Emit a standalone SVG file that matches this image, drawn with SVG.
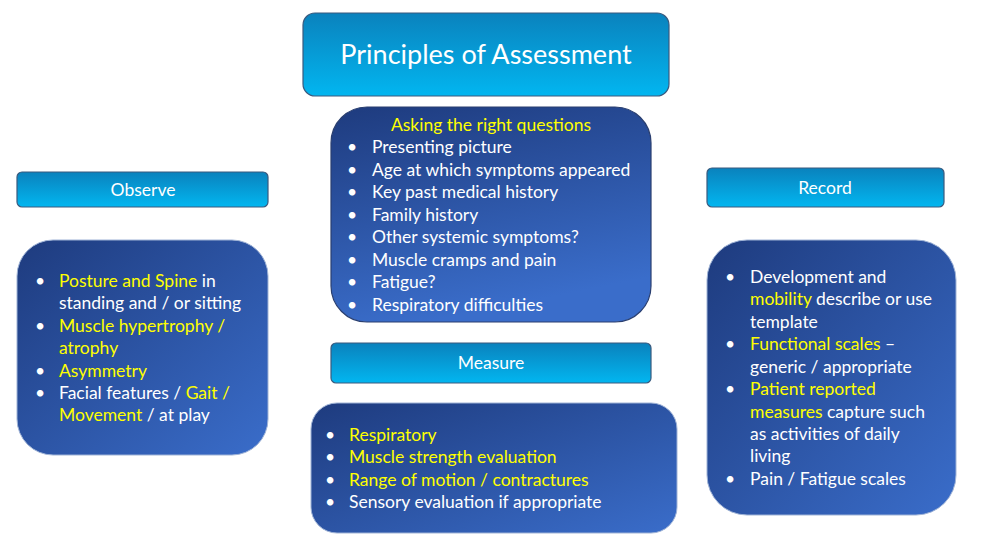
<svg xmlns="http://www.w3.org/2000/svg" width="1000" height="560" viewBox="0 0 1000 560">
<defs>
<linearGradient id="hdr" x1="0" y1="0" x2="0" y2="1">
<stop offset="0" stop-color="#0a82bd"/>
<stop offset="1" stop-color="#02b6f0"/>
</linearGradient>
<linearGradient id="body" x1="0" y1="0" x2="1" y2="1">
<stop offset="0" stop-color="#1e3b7e"/>
<stop offset="1" stop-color="#3a6dca"/>
</linearGradient>
<linearGradient id="bodyV" x1="0" y1="0" x2="0.3" y2="1">
<stop offset="0" stop-color="#1e3b7e"/>
<stop offset="1" stop-color="#3a6dca"/>
</linearGradient>
</defs>
<style>
.hdr{fill:url(#hdr);stroke:#3a5a7e;stroke-width:1.2}
.body{fill:url(#body);stroke:#9fb3d6;stroke-width:1}
.bodyV{fill:url(#bodyV);stroke:#2a3f70;stroke-width:1.2}
text{font-family:Lato,"Open Sans","Liberation Sans",sans-serif;font-size:17.5px;fill:#ffffff}
.h{font-size:17.5px;text-anchor:middle}
.t{font-size:27px;text-anchor:middle}
.y{fill:#ffff00}
.c{text-anchor:middle}
</style>
<rect width="1000" height="560" fill="#ffffff"/>
<g id="title">
<rect class="hdr" x="303" y="13" width="366" height="83" rx="12"/>
<text class="t" x="486" y="64">Principles of Assessment</text>
</g>
<g id="questions">
<rect class="bodyV" x="331" y="107" width="320" height="215" rx="36"/>
<text class="c y" x="491" y="131">Asking the right questions</text>
<text x="347" y="153">•</text><text x="372" y="153">Presenting picture</text>
<text x="347" y="176">•</text><text x="372" y="176">Age at which symptoms appeared</text>
<text x="347" y="198">•</text><text x="372" y="198">Key past medical history</text>
<text x="347" y="221">•</text><text x="372" y="221">Family history</text>
<text x="347" y="243">•</text><text x="372" y="243">Other systemic symptoms?</text>
<text x="347" y="266">•</text><text x="372" y="266">Muscle cramps and pain</text>
<text x="347" y="288">•</text><text x="372" y="288">Fatigue?</text>
<text x="347" y="311">•</text><text x="372" y="311">Respiratory difficulties</text>
</g>
<g id="observe-header">
<rect class="hdr" x="17" y="172" width="251" height="35" rx="5"/>
<text class="h" x="143" y="196">Observe</text>
</g>
<g id="observe">
<rect class="body" x="17" y="240" width="251" height="215" rx="36"/>
<text x="35" y="287">•</text><text x="59" y="287"><tspan class="y">Posture and Spine</tspan> in</text>
<text x="59" y="309">standing and / or sitting</text>
<text x="35" y="332">•</text><text class="y" x="59" y="332">Muscle hypertrophy /</text>
<text class="y" x="59" y="354">atrophy</text>
<text x="35" y="377">•</text><text class="y" x="59" y="377">Asymmetry</text>
<text x="35" y="399">•</text><text x="59" y="399">Facial features / <tspan class="y">Gait /</tspan></text>
<text x="59" y="421"><tspan class="y">Movement</tspan> / at play</text>
</g>
<g id="record-header">
<rect class="hdr" x="707" y="168" width="237" height="39" rx="5"/>
<text class="h" x="825" y="194">Record</text>
</g>
<g id="record">
<rect class="body" x="707" y="240" width="249" height="275" rx="40"/>
<text x="725" y="283">•</text><text x="750" y="283">Development and</text>
<text x="750" y="305"><tspan class="y">mobility</tspan> describe or use</text>
<text x="750" y="328">template</text>
<text x="725" y="350">•</text><text x="750" y="350"><tspan class="y">Functional scales</tspan> –</text>
<text x="750" y="373">generic / appropriate</text>
<text x="725" y="395">•</text><text class="y" x="750" y="395">Patient reported</text>
<text x="750" y="418"><tspan class="y">measures</tspan> capture such</text>
<text x="750" y="440">as activities of daily</text>
<text x="750" y="462">living</text>
<text x="725" y="485">•</text><text x="750" y="485">Pain / Fatigue scales</text>
</g>
<g id="measure-header">
<rect class="hdr" x="331" y="343" width="320" height="40" rx="5"/>
<text class="h" x="491" y="369">Measure</text>
</g>
<g id="measure">
<rect class="body" x="311" y="403" width="366" height="130" rx="26"/>
<text x="325" y="441">•</text><text class="y" x="349" y="441">Respiratory</text>
<text x="325" y="463">•</text><text class="y" x="349" y="463">Muscle strength evaluation</text>
<text x="325" y="486">•</text><text class="y" x="349" y="486">Range of motion / contractures</text>
<text x="325" y="508">•</text><text x="349" y="508">Sensory evaluation if appropriate</text>
</g>
<g id="connectors"></g>
</svg>
